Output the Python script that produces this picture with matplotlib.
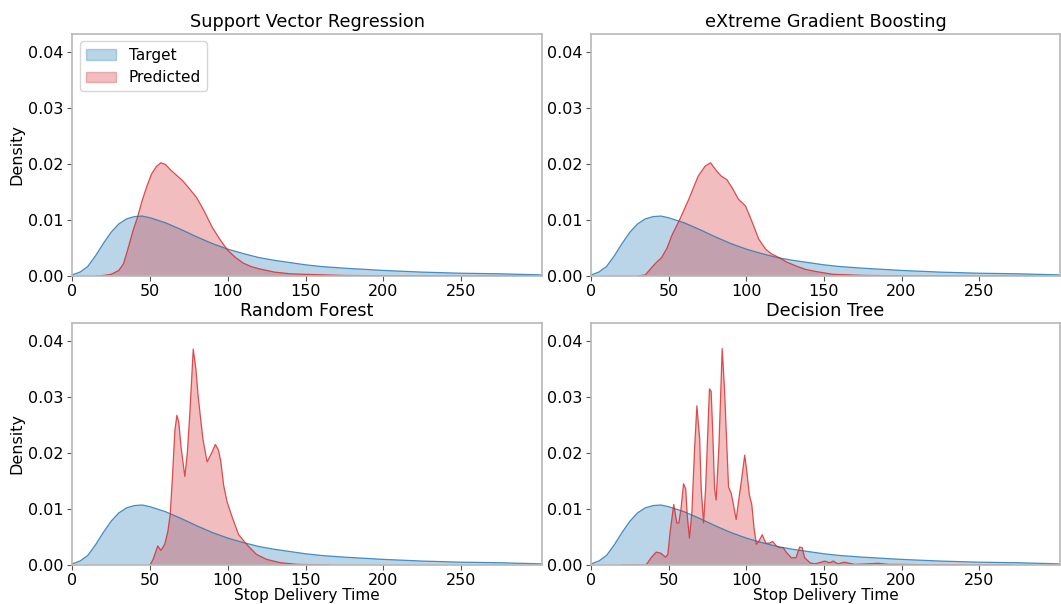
import matplotlib.pyplot as plt
from matplotlib.patches import Patch

# Density of the actual stop delivery times (same in every panel)
target_x = [0, 5, 10, 15, 20, 25, 30, 35, 40, 45, 50, 60, 70, 80, 90, 100, 110, 120,
            130, 140, 150, 160, 175, 200, 225, 250, 275, 302]
target_y = [0.0002, 0.0007, 0.0017, 0.0036, 0.0058, 0.0078, 0.0093, 0.0102, 0.0106,
            0.0107, 0.0104, 0.0095, 0.0083, 0.0070, 0.0058, 0.0048, 0.0040, 0.0033,
            0.0028, 0.0024, 0.0020, 0.0017, 0.0014, 0.0010, 0.0007, 0.0005, 0.0004, 0.0002]

# Density of predictions, one curve per model
svr_x = [15, 20, 25, 30, 33, 36, 39, 42, 45, 48, 51, 54, 57, 60, 63, 67, 71, 75, 80, 85,
         90, 95, 100, 105, 110, 115, 120, 130, 140, 150, 175, 200, 250, 300]
svr_y = [0.0, 0.0001, 0.0003, 0.0010, 0.0022, 0.0050, 0.0080, 0.0105, 0.0135, 0.0160,
         0.0182, 0.0195, 0.0202, 0.0199, 0.0190, 0.0180, 0.0170, 0.0157, 0.0140, 0.0115,
         0.0087, 0.0065, 0.0046, 0.0033, 0.0023, 0.0017, 0.0013, 0.0007, 0.0004, 0.0003,
         0.0001, 0.00005, 0.00002, 0.0]

xgb_x = [30, 35, 39, 42, 45.5, 49, 52, 57, 63, 69, 73.5, 77, 81, 84, 87.5, 91, 95, 99.5,
         104, 108, 112.5, 116, 121, 126, 132, 138, 145, 156, 177, 200, 240, 285]
xgb_y = [0.0, 0.0002, 0.0015, 0.0024, 0.0033, 0.0050, 0.0072, 0.0100, 0.0137, 0.0178,
         0.0196, 0.0202, 0.0187, 0.0178, 0.0172, 0.0157, 0.0137, 0.0125, 0.0095, 0.0066,
         0.0048, 0.0040, 0.0033, 0.0025, 0.0018, 0.0012, 0.0008, 0.0003, 0.0001, 0.00005,
         0.00002, 0.0]

rf_x = [50, 52, 55, 57, 59.5, 61.5, 63, 64.5, 66, 67.3, 68.5, 70, 72.4, 74, 75.5, 77.8,
        79.5, 81, 84, 86.7, 89.5, 92, 94, 95.5, 97.3, 99.5, 103, 107, 113, 118.4, 125,
        134, 145, 165]
rf_y = [0.0, 0.0010, 0.0034, 0.0026, 0.0037, 0.0060, 0.0090, 0.0160, 0.0240, 0.0267,
        0.0255, 0.0210, 0.0158, 0.0200, 0.0265, 0.0385, 0.0350, 0.0300, 0.0225, 0.0184,
        0.0199, 0.0215, 0.0205, 0.0185, 0.0143, 0.0113, 0.0084, 0.0054, 0.0034, 0.0019,
        0.0010, 0.0004, 0.0001, 0.0]

dt_x = [20, 35.5, 38.7, 42, 45, 48, 49.5, 51, 53.3, 55.3, 56.6, 58, 59.6, 61, 62, 63.4,
        65, 66.7, 68.2, 70, 71, 72.5, 73.8, 75.3, 76.3, 77.4, 78.5, 79.6, 80.6, 82.4,
        84.5, 86, 87.5, 88.6, 90.3, 91.8, 93.5, 95, 96.8, 99, 100.4, 102, 103.6, 105,
        106.5, 108, 110.3, 112.5, 115, 117, 119.4, 121.5, 123.7, 126, 129, 132, 134.4,
        136, 137.6, 141, 144, 147, 150.5, 153.8, 156, 159, 163, 170, 178, 185, 192, 200,
        220, 270]
dt_y = [0.0, 0.0, 0.0013, 0.0023, 0.0021, 0.0014, 0.0019, 0.0060, 0.0108, 0.0075,
        0.0075, 0.0101, 0.0145, 0.0136, 0.0089, 0.0048, 0.0095, 0.0207, 0.0284, 0.0225,
        0.0136, 0.0075, 0.0136, 0.0242, 0.0314, 0.0310, 0.0231, 0.0136, 0.0116, 0.0213,
        0.0386, 0.0313, 0.0213, 0.0139, 0.0128, 0.0107, 0.0081, 0.0113, 0.0149, 0.0196,
        0.0166, 0.0125, 0.0107, 0.0066, 0.0037, 0.0042, 0.0054, 0.0039, 0.0039, 0.0042,
        0.0034, 0.0031, 0.0031, 0.0022, 0.0013, 0.0013, 0.0032, 0.0031, 0.0013, 0.0004,
        0.0002, 0.0004, 0.0007, 0.0004, 0.0007, 0.0002, 0.0005, 0.0001, 0.0002, 0.0003,
        0.0001, 0.0001, 0.00003, 0.0]

titles = ['Support Vector Regression', 'eXtreme Gradient Boosting', 'Random Forest', 'Decision Tree']
predictions = [(svr_x, svr_y), (xgb_x, xgb_y), (rf_x, rf_y), (dt_x, dt_y)]

blue = '#1f77b4'
red = '#d62728'

fig = plt.figure(figsize=(10.61, 6.04), dpi=100)
positions = [
    [0.068, 0.543, 0.443, 0.401],
    [0.557, 0.543, 0.442, 0.401],
    [0.068, 0.0646, 0.443, 0.401],
    [0.557, 0.0646, 0.442, 0.401],
]

for i, (pos, title, (px, py)) in enumerate(zip(positions, titles, predictions)):
    ax = fig.add_axes(pos)
    ax.fill_between(target_x, target_y, facecolor=blue, alpha=0.3)
    ax.plot(target_x, target_y, color=blue, lw=0.9, alpha=0.8)
    ax.fill_between(px, py, facecolor=red, alpha=0.3)
    ax.plot(px, py, color=red, lw=0.9, alpha=0.8)

    ax.set_xlim(0, 302)
    ax.set_ylim(0, 0.0432)
    ax.set_xticks([0, 50, 100, 150, 200, 250])
    ax.set_yticks([0.0, 0.01, 0.02, 0.03, 0.04])
    ax.set_yticklabels(['0.00', '0.01', '0.02', '0.03', '0.04'])
    ax.tick_params(labelsize=11.5, length=3.5, width=0.8, color='#555555', pad=2.5)
    for s in ax.spines.values():
        s.set_color('#b8b8b8')
        s.set_linewidth(1.2)
    ax.set_title(title, fontsize=12.7, pad=5)
    if i % 2 == 0:
        ax.set_ylabel('Density', fontsize=11.5, labelpad=3)
    if i >= 2:
        ax.set_xlabel('Stop Delivery Time', fontsize=11, labelpad=0)
    if i == 0:
        handles = [Patch(facecolor=blue, edgecolor=blue, alpha=0.3, label='Target'),
                   Patch(facecolor=red, edgecolor=red, alpha=0.3, label='Predicted')]
        ax.legend(handles=handles, loc='upper left', fontsize=11)

fig.savefig('out.png', dpi=100)
